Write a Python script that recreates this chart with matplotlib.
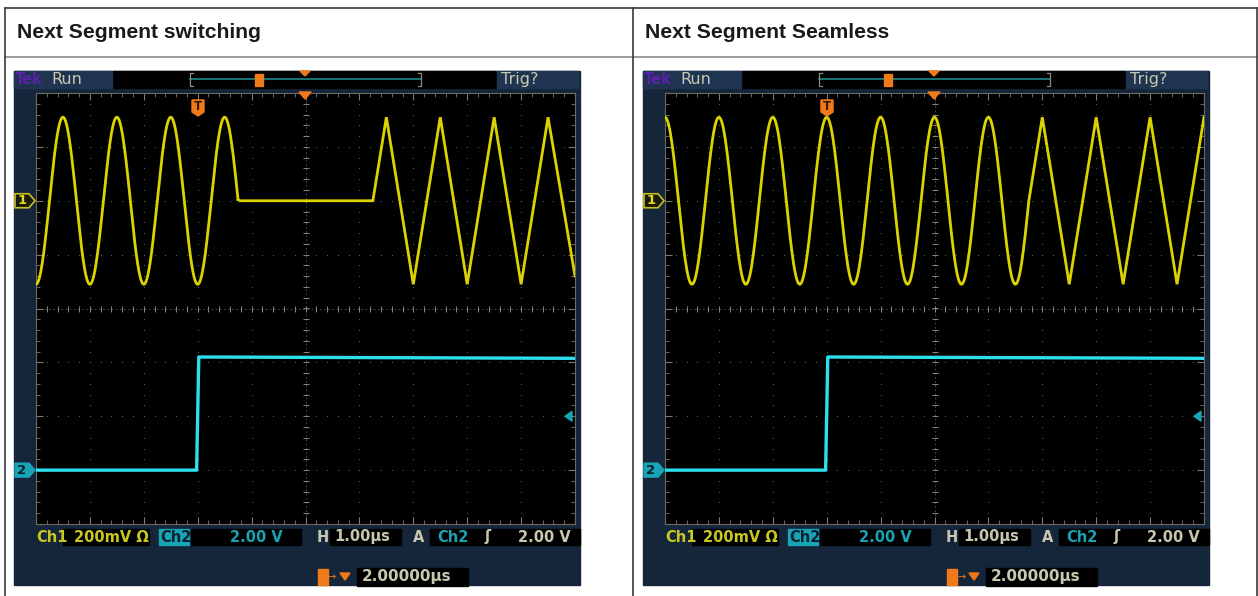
import numpy as np
import matplotlib
matplotlib.use("Agg")
import matplotlib.pyplot as plt
from matplotlib.patches import Rectangle, Polygon
from matplotlib.ticker import MultipleLocator

# ---- table text ----
headers = ["Next Segment switching", "Next Segment Seamless"]

# ---- scope settings (1 div = 1 us horizontally) ----
ch1_scale_mv = 200.0      # mV / div
ch2_scale_v = 2.0         # V / div
ch1_ground_div = 2.0
ch2_ground_div = -3.0
ch1_amp_mv = 310.0
trig_level_v = 2.0
trig_time_us = 3.0

# channel 1 : segments (kind, start us, end us) and first peak time
left_segments = [("sine", 0.0, 3.75), ("flat", 3.75, 6.25), ("tri", 6.25, 10.0)]
right_segments = [("sine", 0.0, 6.75), ("tri", 6.75, 10.0)]
left_peak_us = 0.5
right_peak_us = 0.0

# triangle vertices (us, +1 peak / -1 trough / 0 mid)
left_tri_t = [6.25, 6.5, 7.0, 7.5, 8.0, 8.5, 9.0, 9.5, 10.0]
left_tri_v = [0, 1, -1, 1, -1, 1, -1, 1, -0.9]
right_tri_t = [6.75, 7.0, 7.5, 8.0, 8.5, 9.0, 9.5, 10.0]
right_tri_v = [0, 1, -1, 1, -1, 1, -1, 1]

# channel 2 : step
ch2_t = [0.0, 2.98, 3.02, 10.0]
ch2_v = [0.0, 0.0, 4.2, 4.15]

# bottom readout
readouts = ["Ch1", "200mV \u03a9", "Ch2", "2.00 V", "H", "1.00\u00b5s", "A", "Ch2", "\u0283", "2.00 V"]
delay_text = "2.00000\u00b5s"

W, H = 1258, 596
fig = plt.figure(figsize=(W / 100, H / 100), dpi=100)
ax = fig.add_axes([0, 0, 1, 1])
ax.set_xlim(0, W)
ax.set_ylim(H, 0)
ax.axis("off")
# transparent layer above the graticules for markers
top = fig.add_axes([0, 0, 1, 1], zorder=10)
top.set_xlim(0, W)
top.set_ylim(H, 0)
top.axis("off")
top.patch.set_alpha(0)

# table lines
ax.plot([5, 1257], [8, 8], color="#3a3a3a", lw=1.2)
ax.plot([5, 1257], [57, 57], color="#8c8c8c", lw=1.2)
for x in [5, 633, 1257]:
    ax.plot([x, x], [8, 596], color="#3a3a3a", lw=1.2)
ax.text(17, 33, headers[0], fontsize=15.2, fontweight="bold", family="Liberation Sans",
        color="#1a1a1a", va="center")
ax.text(645, 33, headers[1], fontsize=15.2, fontweight="bold", family="Liberation Sans",
        color="#1a1a1a", va="center")

YEL = "#e8e000"
CYAN = "#2ee0ee"
TEAL = "#17a5b5"
NAVY = "#15253a"
SLATE = "#1f3450"
GRAYT = "#c8c8b0"
ORANGE = "#f07a1a"
FONT = "DejaVu Sans"


def ch1_curve(segments, peak, tri_t, tri_v):
    ts, vs = [], []
    for kind, t0, t1 in segments:
        if kind == "sine":
            t = np.linspace(t0, t1, 400)
            v = ch1_amp_mv * np.cos(2 * np.pi * (t - peak))
        elif kind == "flat":
            t = np.array([t0, t1])
            v = np.array([0.0, 0.0])
        else:
            t = np.array(tri_t)
            v = ch1_amp_mv * np.array(tri_v)
        ts.append(t)
        vs.append(v)
    t = np.concatenate(ts)
    v = np.concatenate(vs)
    return t, v / ch1_scale_mv + ch1_ground_div


def draw_scope(dx, segments, peak, tri_t, tri_v):
    # frame
    ax.add_patch(Rectangle((14 + dx, 71), 566, 514, color=NAVY, zorder=1))
    ax.add_patch(Rectangle((113 + dx, 71), 383, 17, color="black", zorder=2))
    ax.add_patch(Rectangle((14 + dx, 71), 98, 17, color=SLATE, zorder=2))
    ax.add_patch(Rectangle((497 + dx, 71), 81, 17, color=SLATE, zorder=2))
    ax.text(15 + dx, 79.5, "Tek", color="#5a22a8", fontsize=10.5, fontweight="bold",
            family=FONT, va="center", zorder=3)
    ax.text(51 + dx, 79.5, "Run", color=GRAYT, fontsize=11.5, family=FONT, va="center", zorder=3)
    ax.text(501 + dx, 79.5, "Trig?", color=GRAYT, fontsize=11.5, family=FONT, va="center", zorder=3)
    # record bar
    ax.plot([190 + dx, 421 + dx], [79, 79], color="#1c8a88", lw=1.2, zorder=3)
    for bx, s in [(190, 1), (421, -1)]:
        ax.plot([bx + dx + 3 * s, bx + dx, bx + dx, bx + dx + 3 * s], [73, 73, 86, 86],
                color="#8a8a80", lw=0.9, zorder=3)
    ax.add_patch(Rectangle((255 + dx, 74), 8, 12, color=ORANGE, zorder=4))
    ax.add_patch(Polygon([(300 + dx, 71), (310 + dx, 71), (305 + dx, 76)], color=ORANGE, zorder=4))
    # markers over the graticule
    top.add_patch(Polygon([(299 + dx, 92), (311 + dx, 92), (305 + dx, 99)], color=ORANGE))
    top.add_patch(Polygon([(192 + dx, 100), (204 + dx, 100), (204 + dx, 112), (198 + dx, 116),
                           (192 + dx, 112)], color=ORANGE))
    top.text(198 + dx, 107, "T", color="#3a1a00", fontsize=8.5, fontweight="bold", family=FONT,
             ha="center", va="center")
    # channel markers
    y1 = 93 + (4 - ch1_ground_div) * 431 / 8
    y2 = 93 + (4 - ch2_ground_div) * 431 / 8
    ax.add_patch(Polygon([(15 + dx, y1 - 7), (29 + dx, y1 - 7), (35 + dx, y1), (29 + dx, y1 + 7),
                          (15 + dx, y1 + 7)], facecolor="#1a1a08", edgecolor="#c8c020",
                         lw=1.2, zorder=6))
    ax.text(22 + dx, y1, "1", color="#e0d820", fontsize=9.5, fontweight="bold", family=FONT,
            ha="center", va="center", zorder=7)
    ax.add_patch(Polygon([(15 + dx, y2 - 7), (29 + dx, y2 - 7), (35 + dx, y2), (29 + dx, y2 + 7),
                          (15 + dx, y2 + 7)], color=TEAL, zorder=6))
    ax.text(22 + dx, y2, "2", color="#0a2028", fontsize=9.5, fontweight="bold", family=FONT,
            ha="center", va="center", zorder=7)
    yt = 93 + (4 - ch2_ground_div - trig_level_v / ch2_scale_v) * 431 / 8
    top.add_patch(Polygon([(565 + dx, yt), (572 + dx, yt - 5), (572 + dx, yt + 5)], color=TEAL))

    # bottom readout
    yb = 537
    ax.add_patch(Rectangle((63 + dx, 529), 86, 16, color="black", zorder=2))
    ax.add_patch(Rectangle((159 + dx, 529), 30, 16, color=TEAL, zorder=2))
    ax.add_patch(Rectangle((191 + dx, 529), 110, 16, color="black", zorder=2))
    ax.add_patch(Rectangle((330 + dx, 529), 71, 16, color="black", zorder=2))
    ax.add_patch(Rectangle((430 + dx, 529), 150, 16, color="black", zorder=2))
    pos = [36, 74, 160, 230, 317, 334, 413, 437, 484, 518]
    cols = ["#c8c820", "#c8c820", "#0a2030", TEAL, GRAYT, GRAYT, GRAYT, TEAL, GRAYT, GRAYT]
    for s, px, c in zip(readouts, pos, cols):
        ax.text(px + dx, yb, s, color=c, fontsize=10.5, fontweight="bold", family=FONT,
                va="center", zorder=3)
    ax.add_patch(Rectangle((318 + dx, 569), 10, 16, color=ORANGE, zorder=2))
    ax.text(328 + dx, 577, "\u2192", color=ORANGE, fontsize=7, family=FONT, va="center", zorder=3)
    ax.add_patch(Polygon([(340 + dx, 573), (350 + dx, 573), (345 + dx, 580)], color=ORANGE, zorder=3))
    ax.add_patch(Rectangle((357 + dx, 568), 111, 18, color="black", zorder=2))
    ax.text(362 + dx, 577, delay_text, color=GRAYT, fontsize=11, fontweight="bold", family=FONT,
            va="center", zorder=3)

    # graticule axes
    g = fig.add_axes([(36 + dx) / W, 1 - 524 / H, 539 / W, 431 / H], zorder=5)
    g.set_facecolor("black")
    g.set_xlim(0, 10)
    g.set_ylim(-4, 4)
    for sp in g.spines.values():
        sp.set_color("#6a6a60")
        sp.set_linewidth(0.8)
    g.xaxis.set_major_locator(MultipleLocator(1))
    g.yaxis.set_major_locator(MultipleLocator(1))
    g.xaxis.set_minor_locator(MultipleLocator(0.2))
    g.yaxis.set_minor_locator(MultipleLocator(0.2))
    g.tick_params(which="both", direction="in", top=True, right=True, labelbottom=False,
                  labelleft=False, color="#7a7a70")
    g.tick_params(which="major", length=5, width=0.8)
    g.tick_params(which="minor", length=3, width=0.6)
    fine = np.arange(0, 10.01, 0.2)
    finey = np.arange(-4, 4.01, 0.2)
    for i in range(1, 10):
        g.scatter(np.full(finey.size, i), finey, s=0.8, color="#5c5c54", lw=0, zorder=1)
    for k in range(-3, 4):
        g.scatter(fine, np.full(fine.size, k), s=0.8, color="#5c5c54", lw=0, zorder=1)
    g.plot([0, 10], [0, 0], color="#55554c", lw=0.6, ls=(0, (2, 3)), zorder=1)
    g.plot([5, 5], [-4, 4], color="#55554c", lw=0.6, ls=(0, (2, 3)), zorder=1)
    g.scatter(fine, np.zeros(fine.size), marker="|", s=25, color="#8a8a7c", lw=0.7, zorder=1)
    g.scatter(np.full(finey.size, 5), finey, marker="_", s=25, color="#8a8a7c", lw=0.7, zorder=1)

    t1, v1 = ch1_curve(segments, peak, tri_t, tri_v)
    g.plot(t1, v1, color=YEL, lw=2.0, alpha=0.95, zorder=3, solid_joinstyle="miter")
    g.plot(ch2_t, np.array(ch2_v) / ch2_scale_v + ch2_ground_div, color=CYAN, lw=2.4, zorder=3)
    g.set_xticklabels([])
    g.set_yticklabels([])


draw_scope(0, left_segments, left_peak_us, left_tri_t, left_tri_v)
draw_scope(629, right_segments, right_peak_us, right_tri_t, right_tri_v)

fig.savefig("out.png", dpi=100, facecolor="white")
